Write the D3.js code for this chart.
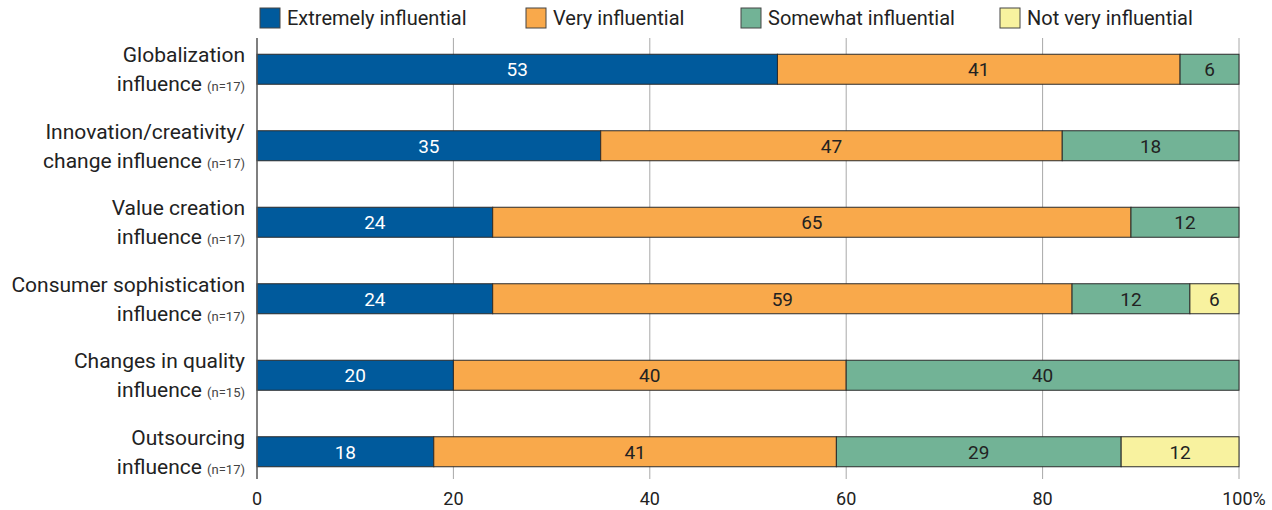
<!DOCTYPE html>
<html>
<head>
<meta charset="utf-8">
<script src="https://cdn.jsdelivr.net/npm/d3@7"></script>
<style>
  body { margin: 0; background: #fff; }
  svg { font-family: Roboto, "Noto Sans", sans-serif; }
</style>
</head>
<body>
<svg id="chart" width="1272" height="510"></svg>
<script>
const categories = [
  "Globalization|influence|(n=17)",
  "Innovation/creativity/|change influence|(n=17)",
  "Value creation|influence|(n=17)",
  "Consumer sophistication|influence|(n=17)",
  "Changes in quality|influence|(n=15)",
  "Outsourcing|influence|(n=17)"
];
const seriesNames = ["Extremely influential", "Very influential", "Somewhat influential", "Not very influential"];
const extremely = [53, 35, 24, 24, 20, 18];
const very = [41, 47, 65, 59, 40, 41];
const somewhat = [6, 18, 12, 12, 40, 29];
const notVery = [0, 0, 0, 6, 0, 12];
const tickValues = [0, 20, 40, 60, 80, 100];
const colors = ["#005a9c", "#f9a94b", "#72b396", "#f8f29f"];
const textColors = ["#fff", "#222", "#222", "#222"];

const svg = d3.select("#chart");
const margin = { left: 257, right: 33, top: 38, bottom: 32 };
const W = 1272, H = 510;

const x = d3.scaleLinear().domain([0, 100]).range([margin.left, W - margin.right]);
const y = d3.scaleBand().domain(d3.range(categories.length))
  .range([31, 490]).paddingInner(0.6).paddingOuter(0.3);

// gridlines
svg.append("g").selectAll("line")
  .data(tickValues.slice(1))
  .join("line")
  .attr("x1", d => x(d)).attr("x2", d => x(d))
  .attr("y1", margin.top).attr("y2", 479)
  .attr("stroke", "#a8a8a8").attr("stroke-width", 1);

// stacked data, totals over 100 (rounding) are clipped at 100
const series = [extremely, very, somewhat, notVery];
const rows = categories.map((c, i) => {
  let acc = 0;
  return series.map((s, k) => {
    const v = s[i];
    const x0 = acc;
    acc += v;
    return { row: i, k, v, x0: Math.min(x0, 100), x1: Math.min(acc, 100) };
  }).filter(d => d.v > 0);
});

const bh = 30;
const barG = svg.append("g");
rows.forEach((segs, i) => {
  const cy = y(i) + y.bandwidth() / 2;
  const g = barG.append("g");
  g.selectAll("rect").data(segs).join("rect")
    .attr("x", d => x(d.x0)).attr("width", d => x(d.x1) - x(d.x0))
    .attr("y", cy - bh / 2).attr("height", bh)
    .attr("fill", d => colors[d.k])
    .attr("stroke", "#2b2b2b").attr("stroke-width", 1);
  g.selectAll("text").data(segs).join("text")
    .attr("x", d => (x(d.x0) + x(d.x1)) / 2)
    .attr("y", cy + 7)
    .attr("text-anchor", "middle")
    .attr("font-size", 19)
    .attr("fill", d => textColors[d.k])
    .text(d => d.v);
});

// axis line
svg.append("line")
  .attr("x1", x(0)).attr("x2", x(0))
  .attr("y1", margin.top).attr("y2", 479)
  .attr("stroke", "#555").attr("stroke-width", 1.5);

// x tick labels
svg.append("g").selectAll("text")
  .data(tickValues)
  .join("text")
  .attr("x", d => d === 100 ? x(d) + 5 : x(d))
  .attr("y", 505)
  .attr("text-anchor", "middle")
  .attr("font-size", 18)
  .attr("fill", "#222")
  .text(d => d === 100 ? "100%" : d);

// category labels
categories.forEach((c, i) => {
  const [l1, l2, n] = c.split("|");
  const cy = y(i) + y.bandwidth() / 2;
  svg.append("text")
    .attr("x", 245).attr("y", cy - 7)
    .attr("text-anchor", "end").attr("font-size", 21).attr("fill", "#222")
    .text(l1);
  const t2 = svg.append("text")
    .attr("x", 245).attr("y", cy + 22)
    .attr("text-anchor", "end").attr("font-size", 21).attr("fill", "#222");
  t2.append("tspan").text(l2 + " ");
  t2.append("tspan").attr("font-size", 13).attr("fill", "#444").text(n);
});

// legend
const legendX = [260, 526, 741, 1000];
const lg = svg.append("g");
seriesNames.forEach((name, k) => {
  lg.append("rect")
    .attr("x", legendX[k]).attr("y", 8).attr("width", 20).attr("height", 20)
    .attr("fill", colors[k]).attr("stroke", "#444").attr("stroke-width", 1);
  lg.append("text")
    .attr("x", legendX[k] + 27).attr("y", 25)
    .attr("font-size", 20).attr("fill", "#222")
    .text(name);
});
</script>
</body>
</html>
